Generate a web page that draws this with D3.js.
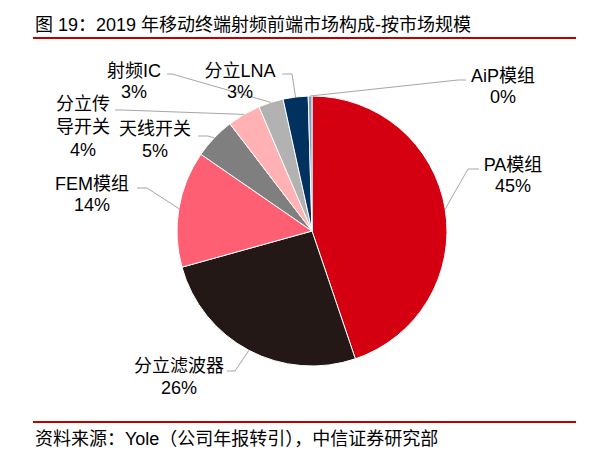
<!DOCTYPE html>
<html>
<head>
<meta charset="utf-8">
<script src="https://cdn.jsdelivr.net/npm/d3@7"></script>
<style>
    body { margin: 0; background: #ffffff; }
    svg { display: block; }
    text { font-family: "Liberation Sans", Arial, "Noto Sans CJK SC", sans-serif; fill: #000000; }
</style>
</head>
<body>
<svg id="pie-chart" width="611" height="462"></svg>
<script>
// segments, clockwise from 12 o'clock
const categories = ["PA模组", "分立滤波器", "FEM模组", "天线开关", "分立传导开关", "射频IC", "分立LNA", "AiP模组"];

// label text split into lines as printed
const labelLines = [["PA模组"], ["分立滤波器"], ["FEM模组"], ["天线开关"], ["分立传", "导开关"], ["射频IC"], ["分立LNA"], ["AiP模组"]];

// market share, percent
const values = [45, 26, 14, 5, 4, 3, 3, 0.45];

const colors = ["#d40012", "#231816", "#fe5f73", "#7f7f7f", "#ffb1b4", "#b2b2b2", "#00315f", "#7f9bbf"];

// label anchors: centre x, first baseline y, line gap, leader end and elbow x
const labelLayout = [
    { x: 513, y: 171, gap: 21, endX: 479, elbowX: 468, lineY: 169 },
    { x: 179, y: 372, gap: 22, endX: 227, elbowX: 235, lineY: 371 },
    { x: 92, y: 190, gap: 21, endX: 137, elbowX: 147, lineY: 188 },
    { x: 155, y: 135, gap: 22, endX: 198, elbowX: 208, lineY: 136 },
    { x: 83, y: 110, gap: 23, endX: 115, elbowX: 122, lineY: 110 },
    { x: 134, y: 77, gap: 21, endX: 167, elbowX: 172, lineY: 74 },
    { x: 240, y: 77, gap: 21, endX: 282, elbowX: 292, lineY: 74 },
    { x: 503, y: 82, gap: 21, endX: 466, elbowX: 458, lineY: 80 }
];

const titleText = "图 19：2019 年移动终端射频前端市场构成-按市场规模";
const sourceText = "资料来源：Yole（公司年报转引），中信证券研究部";

const centerX = 312;
const centerY = 231;
const radius = 135;
const fontSize = 18;

const svg = d3.select("#pie-chart");

// title and rules
svg.append("text")
    .attr("x", 35)
    .attr("y", 31)
    .attr("font-size", fontSize + "px")
    .text(titleText);

svg.append("line")
    .attr("x1", 33).attr("x2", 576)
    .attr("y1", 38).attr("y2", 38)
    .style("stroke", "#c00000")
    .style("stroke-width", 2);

svg.append("line")
    .attr("x1", 33).attr("x2", 576)
    .attr("y1", 422).attr("y2", 422)
    .style("stroke", "#c00000")
    .style("stroke-width", 2);

svg.append("text")
    .attr("x", 35)
    .attr("y", 445)
    .attr("font-size", fontSize + "px")
    .text(sourceText);

// pie
const pie = d3.pie().sort(null).value(function (d) { return d; });
const arcs = pie(values);

const arc = d3.arc().innerRadius(0).outerRadius(radius);
const edgeArc = d3.arc().innerRadius(radius).outerRadius(radius);

const g = svg.append("g")
    .attr("transform", `translate(${centerX}, ${centerY})`);

g.selectAll("path")
    .data(arcs)
    .join("path")
    .attr("d", arc)
    .style("fill", function (d, i) { return colors[i]; })
    .style("stroke", "#ffffff")
    .style("stroke-width", 1);

// leader lines
const line = d3.line();
svg.append("g")
    .selectAll("path")
    .data(arcs)
    .join("path")
    .attr("d", function (d, i) {
        const p = edgeArc.centroid(d);
        const l = labelLayout[i];
        return line([[p[0] + centerX, p[1] + centerY], [l.elbowX, l.lineY], [l.endX, l.lineY]]);
    })
    .style("fill", "none")
    .style("stroke", "#a6a6a6")
    .style("stroke-width", 1);

// labels
const labels = svg.append("g")
    .selectAll("text")
    .data(arcs)
    .join("text")
    .attr("text-anchor", "middle")
    .attr("font-size", fontSize + "px");

labels.each(function (d, i) {
    const t = d3.select(this);
    const l = labelLayout[i];
    const rows = labelLines[i].concat([Math.round(values[i]) + "%"]);
    rows.forEach(function (r, k) {
        t.append("tspan")
            .attr("x", l.x)
            .attr("y", l.y + k * l.gap)
            .text(r);
    });
});
</script>
</body>
</html>
